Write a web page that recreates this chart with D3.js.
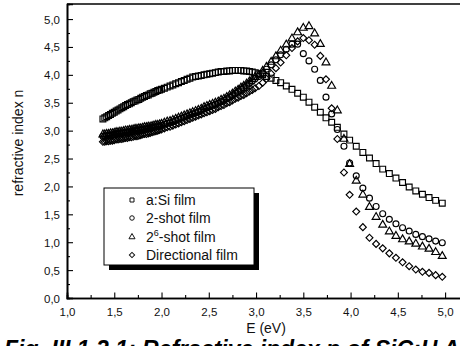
<!DOCTYPE html>
<html>
<head>
<meta charset="utf-8">
<script src="https://cdn.jsdelivr.net/npm/d3@7/dist/d3.min.js"></script>
<style>
  html, body { margin: 0; padding: 0; background: #fff; }
  svg { display: block; font-family: Arial, "Liberation Sans", sans-serif; }
</style>
</head>
<body>
<svg id="chart" width="460" height="346"></svg>
<script>
// Photon energy grid (eV), shared by all four films
const energy = [
  1.38,1.40,1.42,1.44,1.46,1.48,1.50,1.52,1.54,1.56,
  1.58,1.60,1.62,1.64,1.66,1.68,1.70,1.72,1.74,1.76,
  1.78,1.80,1.82,1.84,1.86,1.88,1.90,1.92,1.94,1.96,
  1.98,2.00,
  2.03,2.06,2.09,2.12,2.15,2.18,2.21,2.24,2.27,2.30,
  2.33,2.36,2.39,2.42,2.45,2.48,2.51,2.54,2.57,2.60,
  2.63,2.66,2.69,2.72,2.75,2.78,2.81,2.84,2.87,2.90,
  2.93,2.96,2.99,
  3.03,3.07,3.11,3.16,3.21,3.26,
  3.32,3.38,3.44,3.50,3.56,3.62,3.68,3.74,3.80,3.86,
  3.93,3.99,4.06,4.13,4.20,4.27,4.34,4.41,4.48,4.55,
  4.62,4.69,4.76,4.83,4.90,4.97
];

// Refractive index n of each film
const aSiFilm = [
  3.21,3.23,3.25,3.27,3.29,3.31,3.33,3.35,3.37,3.39,
  3.41,3.43,3.45,3.47,3.48,3.50,3.52,3.53,3.55,3.56,
  3.58,3.60,3.61,3.63,3.64,3.66,3.67,3.69,3.70,3.72,
  3.73,3.74,
  3.76,3.78,3.80,3.82,3.84,3.86,3.88,3.90,3.92,3.94,
  3.96,3.97,3.98,3.99,4.00,4.01,4.02,4.03,4.04,4.05,
  4.06,4.06,4.07,4.07,4.08,4.08,4.08,4.08,4.07,4.07,
  4.06,4.05,4.04,
  4.02,4.00,3.97,3.94,3.90,3.86,
  3.80,3.74,3.67,3.60,3.51,3.42,3.33,3.23,3.15,3.06,
  2.94,2.83,2.72,2.61,2.51,2.41,2.31,2.23,2.15,2.07,
  1.99,1.92,1.86,1.80,1.75,1.70
];

const twoShotFilm = [
  2.90,2.90,2.91,2.91,2.92,2.92,2.93,2.94,2.94,2.95,
  2.95,2.96,2.97,2.97,2.98,2.98,2.99,3.00,3.00,3.01,
  3.01,3.02,3.03,3.03,3.04,3.04,3.05,3.06,3.07,3.07,
  3.08,3.09,
  3.11,3.13,3.14,3.16,3.18,3.20,3.22,3.24,3.26,3.28,
  3.30,3.32,3.34,3.36,3.39,3.41,3.43,3.45,3.47,3.49,
  3.52,3.54,3.57,3.60,3.63,3.67,3.70,3.74,3.77,3.81,
  3.85,3.89,3.93,
  3.97,4.03,4.10,4.18,4.27,4.36,
  4.46,4.55,4.55,4.38,4.25,4.10,3.90,3.60,3.30,3.02,
  2.72,2.42,2.19,1.97,1.79,1.64,1.51,1.41,1.33,1.26,
  1.20,1.14,1.10,1.06,1.02,0.99
];

const sixtyFourShotFilm = [
  2.93,2.93,2.94,2.94,2.95,2.95,2.96,2.97,2.97,2.98,
  2.98,2.99,3.00,3.00,3.01,3.01,3.02,3.03,3.03,3.04,
  3.04,3.05,3.06,3.06,3.07,3.07,3.08,3.09,3.10,3.10,
  3.11,3.12,
  3.14,3.16,3.17,3.19,3.21,3.23,3.25,3.27,3.29,3.31,
  3.33,3.35,3.37,3.39,3.42,3.44,3.46,3.48,3.50,3.52,
  3.55,3.57,3.60,3.63,3.66,3.70,3.73,3.77,3.80,3.84,
  3.88,3.92,3.96,
  4.00,4.07,4.14,4.23,4.33,4.43,
  4.54,4.65,4.76,4.84,4.87,4.74,4.55,4.22,3.80,3.36,
  2.85,2.40,2.10,1.85,1.63,1.45,1.31,1.19,1.11,1.05,
  1.01,0.97,0.92,0.88,0.82,0.75
];

const directionalFilm = [
  2.80,2.80,2.81,2.81,2.82,2.82,2.83,2.84,2.84,2.85,
  2.85,2.86,2.87,2.87,2.88,2.88,2.89,2.90,2.90,2.91,
  2.92,2.93,2.94,2.94,2.95,2.96,2.97,2.98,2.99,3.00,
  3.01,3.02,
  3.04,3.06,3.07,3.09,3.11,3.13,3.15,3.17,3.19,3.21,
  3.23,3.25,3.27,3.29,3.31,3.33,3.35,3.37,3.39,3.42,
  3.44,3.46,3.49,3.51,3.54,3.57,3.59,3.62,3.64,3.67,
  3.70,3.73,3.76,
  3.80,3.86,3.93,4.02,4.12,4.22,
  4.35,4.48,4.60,4.66,4.62,4.54,4.34,3.92,3.40,2.85,
  2.25,1.85,1.55,1.27,1.08,0.97,0.89,0.80,0.72,0.64,
  0.57,0.51,0.47,0.45,0.41,0.38
];

const seriesNames = ["a:Si film", "2-shot film", "2\u2076-shot film", "Directional film"];
const xTicks = [1.0, 1.5, 2.0, 2.5, 3.0, 3.5, 4.0, 4.5, 5.0];
const yTicks = [0.0, 0.5, 1.0, 1.5, 2.0, 2.5, 3.0, 3.5, 4.0, 4.5, 5.0];

const svg = d3.select("#chart");

const x = d3.scaleLinear().domain([1.0, 5.2]).range([67, 464]);
const y = d3.scaleLinear().domain([0, 5.27]).range([298, 4]);

const fmt = d => d.toFixed(1).replace(".", ",");

// Frame
const frame = svg.append("g").attr("stroke", "#000").attr("stroke-width", 1.6).attr("fill", "none");
frame.append("line").attr("x1", x.range()[0]).attr("x2", x.range()[1]).attr("y1", y.range()[1]).attr("y2", y.range()[1]);
frame.append("line").attr("x1", x.range()[1]).attr("x2", x.range()[1]).attr("y1", y.range()[0]).attr("y2", y.range()[1]);

// Minor ticks
const xMinor = d3.range(1.25, 5.2, 0.5);
const yMinor = d3.range(0.25, 5.2, 0.5);

const xAxisMinor = svg.append("g").attr("transform", `translate(0,${y.range()[0]})`)
  .call(d3.axisBottom(x).tickValues(xMinor).tickSize(-3).tickFormat(""));
const yAxisMinor = svg.append("g").attr("transform", `translate(${x.range()[0]},0)`)
  .call(d3.axisLeft(y).tickValues(yMinor).tickSize(-3).tickFormat(""));

const xAxis = svg.append("g").attr("transform", `translate(0,${y.range()[0]})`)
  .call(d3.axisBottom(x).tickValues(xTicks).tickSize(-5.5).tickPadding(10).tickFormat(fmt));
const yAxis = svg.append("g").attr("transform", `translate(${x.range()[0]},0)`)
  .call(d3.axisLeft(y).tickValues(yTicks).tickSize(-6).tickPadding(7).tickFormat(fmt));

[xAxisMinor, yAxisMinor, xAxis, yAxis].forEach(g => {
  g.select(".domain").attr("stroke", "#000").attr("stroke-width", 1.6);
  g.selectAll(".tick line").attr("stroke", "#000").attr("stroke-width", 1.1);
  g.selectAll("text").attr("font-size", 11.5).attr("fill", "#111")
    .attr("font-family", "Arial, 'Liberation Sans', sans-serif");
});
xAxis.selectAll("text").attr("dy", "0.71em");
yAxis.selectAll("text").attr("dy", "0.35em");

// Axis titles
svg.append("text").attr("x", 266).attr("y", 333).attr("text-anchor", "middle")
  .attr("font-size", 14).attr("fill", "#111").text("E (eV)");
svg.append("text").attr("transform", "translate(23,143) rotate(-90)").attr("text-anchor", "middle")
  .attr("font-size", 14).attr("fill", "#111").text("refractive index n");

// Markers
const shapes = [
  d3.symbol().type(d3.symbolSquare).size(34),
  d3.symbol().type(d3.symbolCircle).size(28),
  d3.symbol().type(d3.symbolTriangle).size(27),
  d3.symbol().type(d3.symbolSquare).size(24)
];
const rotations = [0, 0, 0, 45];
const seriesValues = [aSiFilm, twoShotFilm, sixtyFourShotFilm, directionalFilm];

const plot = svg.append("g");
seriesValues.forEach((vals, s) => {
  plot.append("g").selectAll("path")
    .data(energy.map((e, i) => ({ e, n: vals[i] })))
    .join("path")
    .attr("d", shapes[s]())
    .attr("transform", d => `translate(${x(d.e)},${y(d.n)}) rotate(${rotations[s]})`)
    .attr("fill", "none")
    .attr("stroke", "#000")
    .attr("stroke-width", 1.15);
});

// Legend with drop shadow
const lg = svg.append("g");
lg.append("rect").attr("x", 109).attr("y", 193).attr("width", 150).attr("height", 77).attr("fill", "#000");
lg.append("rect").attr("x", 104).attr("y", 188).attr("width", 150).attr("height", 77)
  .attr("fill", "#fff").attr("stroke", "#000").attr("stroke-width", 1);
const legendShapes = [
  d3.symbol().type(d3.symbolSquare).size(16),
  d3.symbol().type(d3.symbolCircle).size(16),
  d3.symbol().type(d3.symbolTriangle).size(16),
  d3.symbol().type(d3.symbolSquare).size(14)
];
const rowsY = [200, 218, 237, 255];
seriesNames.forEach((name, i) => {
  lg.append("path").attr("d", legendShapes[i]())
    .attr("transform", `translate(132,${rowsY[i]}) rotate(${rotations[i]})`)
    .attr("fill", "none").attr("stroke", "#111").attr("stroke-width", 1);
  const t = lg.append("text").attr("x", 146).attr("y", rowsY[i] + 5)
    .attr("font-size", 14).attr("fill", "#111");
  if (i === 2) {
    t.append("tspan").text("2");
    t.append("tspan").attr("dy", -6).attr("font-size", 9).text("6");
    t.append("tspan").attr("dy", 6).text("-shot film");
  } else {
    t.text(name);
  }
});

// Figure caption
svg.append("text").attr("x", 4).attr("y", 357)
  .attr("font-size", 23).attr("font-weight", "bold").attr("font-style", "italic").attr("fill", "#000")
  .text("Fig. III.1.2.1: Refractive index n of SiC:H A");
</script>
</body>
</html>
